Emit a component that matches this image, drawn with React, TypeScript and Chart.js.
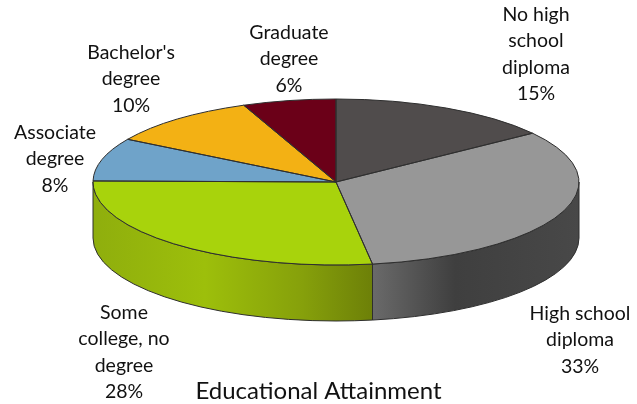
import React, { useEffect, useRef } from "react";
import { Chart, registerables } from "chart.js";

Chart.register(...registerables);

const categories = [
  "No high school diploma",
  "High school diploma",
  "Some college, no degree",
  "Associate degree",
  "Bachelor's degree",
  "Graduate degree",
];
const shares = [15, 32.6, 27.6, 8.4, 10.2, 6.2];
const topColors = ["#504c4c", "#979797", "#a8d30c", "#6fa3c9", "#f3b114", "#6b0018"];
const labelLines = [
  ["No high", "school", "diploma"],
  ["High school", "diploma"],
  ["Some", "college, no", "degree"],
  ["Associate", "degree"],
  ["Bachelor's", "degree"],
  ["Graduate", "degree"],
];
// centre x and first-line y of each outside label
const labelX = [536, 580, 124, 55, 131, 289];
const labelY = [15, 314, 313, 133, 53, 33];
const titleText = "Educational Attainment";

const CX = 336;
const CY = 182;
const RX = 243;
const RY = 83;
const DEPTH = 56;
const LABEL_FONT = "19.5px Lato";
const LINE_H = 26.2;

const greyStops: [number, string][] = [[0, "#6a6a6a"], [0.4, "#3f3f3f"], [1, "#484848"]];
const greenStops: [number, string][] = [[0, "#8fae0d"], [0.4, "#9dbf0b"], [0.75, "#86a00b"], [1, "#6d8008"]];

const pie3d = {
  id: "pie3d",
  beforeDatasetsDraw(chart: any) {
    const ctx = chart.ctx;
    const arcs = chart.getDatasetMeta(0).data;
    const TAU = Math.PI * 2;
    // side walls, only the front half of the ring is visible
    arcs.forEach((arc: any, i: number) => {
      const p = arc.getProps(["startAngle", "endAngle"], true);
      let a0 = p.startAngle;
      let a1 = p.endAngle;
      while (a1 <= 0) { a0 += TAU; a1 += TAU; }
      const from = Math.max(a0, 0);
      const to = Math.min(a1, Math.PI);
      if (to <= from) return;
      const xa = CX + RX * Math.cos(from);
      const xb = CX + RX * Math.cos(to);
      const left = Math.min(xa, xb);
      const right = Math.max(xa, xb);
      const g = ctx.createLinearGradient(left, 0, right, 0);
      const stops = i === 2 ? greenStops : greyStops;
      stops.forEach(([o, c]) => g.addColorStop(o, c));
      ctx.save();
      ctx.beginPath();
      ctx.ellipse(CX, CY, RX, RY, 0, from, to);
      ctx.ellipse(CX, CY + DEPTH, RX, RY, 0, to, from, true);
      ctx.closePath();
      ctx.fillStyle = g;
      ctx.fill();
      ctx.strokeStyle = "#2e2e2e";
      ctx.lineWidth = 1;
      ctx.stroke();
      ctx.restore();
    });
    // squash the library's circular pie into the tilted top face
    const first = arcs[0].getProps(["x", "y", "outerRadius"], true);
    ctx.save();
    ctx.translate(CX, CY);
    ctx.scale(RX / first.outerRadius, RY / first.outerRadius);
    ctx.translate(-first.x, -first.y);
  },
  afterDatasetsDraw(chart: any) {
    const ctx = chart.ctx;
    ctx.restore();
    const arcs = chart.getDatasetMeta(0).data;
    ctx.save();
    ctx.strokeStyle = "#2e2e2e";
    ctx.lineWidth = 1;
    arcs.forEach((arc: any) => {
      const p = arc.getProps(["startAngle", "endAngle"], true);
      ctx.beginPath();
      ctx.moveTo(CX, CY);
      ctx.ellipse(CX, CY, RX, RY, 0, p.startAngle, p.endAngle);
      ctx.closePath();
      ctx.stroke();
    });
    // outside labels
    ctx.fillStyle = "#111111";
    ctx.font = LABEL_FONT;
    ctx.textAlign = "center";
    ctx.textBaseline = "middle";
    const total = shares.reduce((a, b) => a + b, 0);
    labelLines.forEach((lines, i) => {
      const all = [...lines, `${Math.round((shares[i] / total) * 100)}%`];
      all.forEach((t, k) => ctx.fillText(t, labelX[i], labelY[i] + k * LINE_H));
    });
    ctx.restore();
  },
};

export default function App() {
  const ref = useRef<HTMLCanvasElement>(null);
  useEffect(() => {
    const chart = new Chart(ref.current!, {
      type: "pie",
      data: {
        labels: categories,
        datasets: [{ data: shares, backgroundColor: topColors, borderWidth: 0 }],
      },
      options: {
        animation: false,
        responsive: false,
        layout: { padding: 0 },
        plugins: {
          legend: { display: false },
          tooltip: { enabled: false },
          title: {
            display: true,
            text: titleText,
            position: "bottom",
            color: "#111111",
            font: { family: "Lato", size: 24, weight: "normal" },
            padding: { top: 0, bottom: -2 },
          },
        },
      },
      plugins: [pie3d],
    } as any);
    return () => chart.destroy();
  }, []);
  return (
    <canvas
      ref={ref}
      width={637}
      height={404}
      style={{ position: "fixed", left: 0, top: 0, width: 637, height: 404, display: "block" }}
    />
  );
}
